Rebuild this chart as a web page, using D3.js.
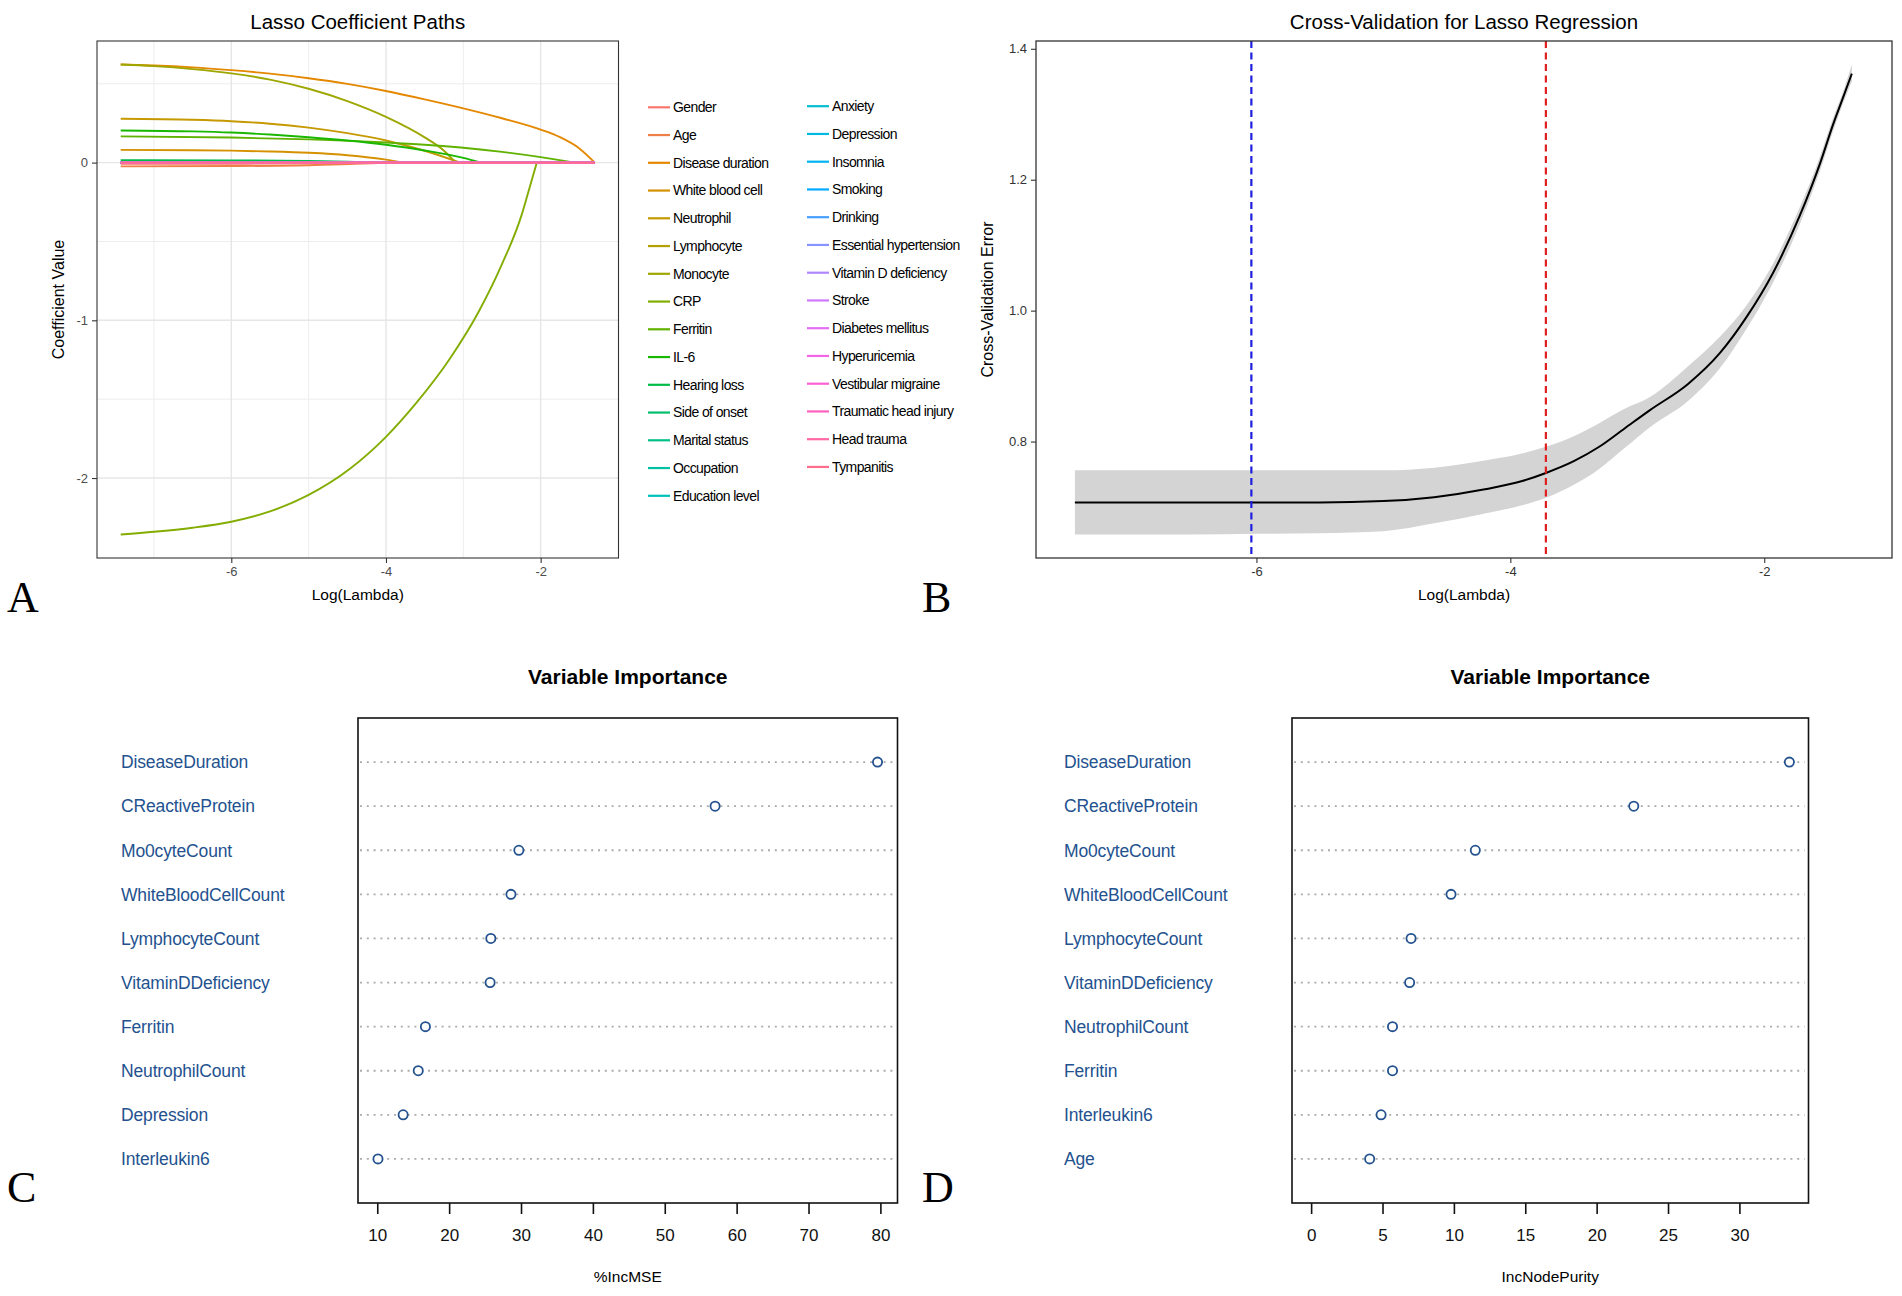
<!DOCTYPE html>
<html>
<head>
<meta charset="utf-8">
<title>Lasso paths, cross-validation and variable importance</title>
<script src="https://cdn.jsdelivr.net/npm/d3@7"></script>
<style>
  body { margin: 0; background: #fff; }
  svg { display: block; font-family: "Liberation Sans", Arial, sans-serif; }
</style>
</head>
<body>
<svg id="chart" width="1902" height="1296"></svg>
<script>
// ---- data ----

// variables in legend order (ggplot default hue palette)
const varNames = ["Gender", "Age", "Disease duration", "White blood cell", "Neutrophil",
  "Lymphocyte", "Monocyte", "CRP", "Ferritin", "IL-6", "Hearing loss", "Side of onset",
  "Marital status", "Occupation", "Education level", "Anxiety", "Depression", "Insomnia",
  "Smoking", "Drinking", "Essential hypertension", "Vitamin D deficiency", "Stroke",
  "Diabetes mellitus", "Hyperuricemia", "Vestibular migraine", "Traumatic head injury",
  "Head trauma", "Tympanitis"];

// range of log(lambda) on the path
const logLambdaRange = [-7.43, -1.30];

// non-zero coefficient paths: [log(lambda), coefficient], zero after the last point
const pathGender = [[-7.43, -0.007], [-6, -0.007], [-5, -0.005], [-4.4, -0.002], [-4.1, 0]];
const pathAge = [[-7.43, -0.024], [-6, -0.022], [-5, -0.017], [-4.4, -0.008], [-3.9, 0]];
const pathDiseaseDuration = [[-7.43, 0.622], [-7, 0.616], [-6.5, 0.604], [-6, 0.586], [-5.5, 0.564],
  [-5, 0.535], [-4.5, 0.499], [-4, 0.454], [-3.5, 0.401], [-3, 0.344], [-2.5, 0.281], [-2, 0.209],
  [-1.75, 0.161], [-1.5, 0.09], [-1.3, 0]];
const pathWhiteBloodCell = [[-7.43, 0.081], [-6.5, 0.0787], [-6, 0.0757], [-5.5, 0.0704], [-5, 0.062],
  [-4.5, 0.047], [-4, 0.019], [-3.78, 0]];
const pathNeutrophil = [[-7.43, 0.278], [-6.5, 0.2715], [-6, 0.2625], [-5.5, 0.2465], [-5, 0.2215],
  [-4.5, 0.1865], [-4, 0.140], [-3.5, 0.075], [-3.04, 0]];
const pathMonocyte = [[-7.43, 0.622], [-7, 0.612], [-6.5, 0.593], [-6, 0.566], [-5.5, 0.526],
  [-5, 0.468], [-4.5, 0.39], [-4, 0.29], [-3.5, 0.16], [-3.25, 0.075], [-3.1, 0]];
const pathCRP = [[-7.43, -2.358], [-7, -2.341], [-6.5, -2.315], [-6, -2.277], [-5.5, -2.212],
  [-5, -2.107], [-4.47, -1.943], [-4, -1.739], [-3.6, -1.519], [-3.17, -1.24], [-2.8, -0.944],
  [-2.5, -0.644], [-2.25, -0.338], [-2.15, -0.17], [-2.05, 0]];
const pathFerritin = [[-7.43, 0.166], [-6, 0.159], [-5, 0.147], [-4, 0.127], [-3.5, 0.113],
  [-3, 0.094], [-2.5, 0.068], [-2, 0.035], [-1.56, 0]];
const pathIL6 = [[-7.43, 0.204], [-6.5, 0.198], [-6, 0.1905], [-5.5, 0.178], [-5, 0.161],
  [-4.5, 0.140], [-4, 0.113], [-3.5, 0.077], [-3, 0.03], [-2.77, 0]];
const pathHearingLoss = [[-7.43, 0.015], [-6, 0.014], [-5, 0.011], [-4.5, 0.006], [-4.1, 0]];

// cross-validation curve
const cvLogLambda = [-7.43, -7.0, -6.5, -6.0, -5.5, -5.0, -4.6, -4.2, -3.9, -3.72, -3.5, -3.3,
  -3.1, -2.9, -2.6, -2.35, -2.14, -1.93, -1.72, -1.56, -1.46, -1.38, -1.31];
const cvMean = [0.707, 0.707, 0.707, 0.707, 0.707, 0.709, 0.715, 0.727, 0.740, 0.752, 0.770, 0.792,
  0.820, 0.848, 0.888, 0.935, 0.990, 1.058, 1.145, 1.225, 1.283, 1.325, 1.362];
const cvUpper = [0.756, 0.756, 0.756, 0.756, 0.756, 0.756, 0.760, 0.771, 0.782, 0.792, 0.808, 0.828,
  0.850, 0.868, 0.915, 0.960, 1.008, 1.072, 1.158, 1.236, 1.293, 1.334, 1.376];
const cvLower = [0.658, 0.658, 0.658, 0.659, 0.660, 0.663, 0.675, 0.690, 0.703, 0.714, 0.734, 0.758,
  0.790, 0.822, 0.862, 0.912, 0.972, 1.043, 1.132, 1.214, 1.273, 1.316, 1.350];
const logLambdaMin = -6.04;   // blue line
const logLambda1se = -3.72;   // red line

// random forest importance
const mseLabels = ["DiseaseDuration", "CReactiveProtein", "Mo0cyteCount", "WhiteBloodCellCount",
  "LymphocyteCount", "VitaminDDeficiency", "Ferritin", "NeutrophilCount", "Depression", "Interleukin6"];
const incMSE = [79.6, 57.0, 29.7, 28.6, 25.8, 25.7, 16.7, 15.7, 13.6, 10.1];
const purityLabels = ["DiseaseDuration", "CReactiveProtein", "Mo0cyteCount", "WhiteBloodCellCount",
  "LymphocyteCount", "VitaminDDeficiency", "NeutrophilCount", "Ferritin", "Interleukin6", "Age"];
const incNodePurity = [33.5, 22.6, 11.5, 9.8, 7.0, 6.9, 5.7, 5.7, 4.9, 4.1];

// ---- helpers ----

// R's hcl() (polar Luv) -> hex, as used by ggplot's hue palette
function rHcl(h, c, l) {
  const hr = h * Math.PI / 180;
  const U = c * Math.cos(hr), V = c * Math.sin(hr);
  const Xn = 95.047, Yn = 100, Zn = 108.883;
  const Y = Yn * (l > 8 ? Math.pow((l + 16) / 116, 3) : l / 903.3);
  const t = Xn + 15 * Yn + 3 * Zn;
  const up = U / (13 * l) + 4 * Xn / t;
  const vp = V / (13 * l) + 9 * Yn / t;
  const X = 9 * Y * up / (4 * vp);
  const Z = -X / 3 - 5 * Y + 3 * Y / vp;
  const x = X / 100, y = Y / 100, z = Z / 100;
  const lin = [3.240479 * x - 1.537150 * y - 0.498535 * z,
    -0.969256 * x + 1.875992 * y + 0.041556 * z,
    0.055648 * x - 0.204043 * y + 1.057311 * z];
  const gam = v => {
    v = v > 0.00304 ? 1.055 * Math.pow(v, 1 / 2.4) - 0.055 : 12.92 * v;
    return Math.round(255 * Math.max(0, Math.min(1, v)));
  };
  return d3.rgb(gam(lin[0]), gam(lin[1]), gam(lin[2])).formatHex();
}

function huePal(n) {
  const step = 360 / n;
  return d3.range(n).map(i => rHcl((15 + i * step) % 360, 100, 65));
}

function expand(ext, mult) {
  const pad = (ext[1] - ext[0]) * mult;
  return [ext[0] - pad, ext[1] + pad];
}

const svg = d3.select('#chart');
const fmt = d => String(d);

function styleAxis(g, color, size) {
  g.select('.domain').remove();
  g.selectAll('.tick line').attr('stroke', '#333').attr('stroke-width', 1.1);
  g.selectAll('.tick text').attr('fill', color).attr('font-size', size)
    .attr('font-family', '"Liberation Sans", Arial, sans-serif');
}

function panelLetter(txt, x, y) {
  svg.append('text').attr('x', x).attr('y', y).text(txt)
    .attr('font-family', '"Liberation Serif", "Times New Roman", serif')
    .attr('font-size', 44).attr('fill', '#000');
}

// ---- Panel A: lasso coefficient paths ----
function drawPaths() {
  const nonZero = {
    "Gender": pathGender, "Age": pathAge, "Disease duration": pathDiseaseDuration,
    "White blood cell": pathWhiteBloodCell, "Neutrophil": pathNeutrophil, "Monocyte": pathMonocyte,
    "CRP": pathCRP, "Ferritin": pathFerritin, "IL-6": pathIL6, "Hearing loss": pathHearingLoss
  };
  const colors = huePal(varNames.length);
  const series = varNames.map((name, i) => ({
    name, color: colors[i],
    points: nonZero[name] || [[logLambdaRange[0], 0], [logLambdaRange[1], 0]]
  }));

  const left = 97, right = 618.5, top = 41, bottom = 558;
  const allY = series.flatMap(s => s.points.map(p => p[1]));
  const x = d3.scaleLinear().domain(expand(logLambdaRange, 0.05)).range([left, right]);
  const y = d3.scaleLinear().domain(expand(d3.extent(allY), 0.05)).range([bottom, top]);

  const g = svg.append('g');

  // grid
  const xMajor = [-6, -4, -2], xMinor = [-7, -5, -3];
  const yMajor = [0, -1, -2], yMinor = [0.5, -0.5, -1.5];
  g.selectAll('.vminor').data(xMinor).join('line')
    .attr('x1', d => x(d)).attr('x2', d => x(d)).attr('y1', top).attr('y2', bottom)
    .attr('stroke', '#EDEDED').attr('stroke-width', 1);
  g.selectAll('.hminor').data(yMinor).join('line')
    .attr('x1', left).attr('x2', right).attr('y1', d => y(d)).attr('y2', d => y(d))
    .attr('stroke', '#EDEDED').attr('stroke-width', 1);
  g.selectAll('.vmajor').data(xMajor).join('line')
    .attr('x1', d => x(d)).attr('x2', d => x(d)).attr('y1', top).attr('y2', bottom)
    .attr('stroke', '#E6E6E6').attr('stroke-width', 1.4);
  g.selectAll('.hmajor').data(yMajor).join('line')
    .attr('x1', left).attr('x2', right).attr('y1', d => y(d)).attr('y2', d => y(d))
    .attr('stroke', '#E6E6E6').attr('stroke-width', 1.4);

  // lines: curved part, then flat at zero up to the end of the path
  const line = d3.line().x(d => x(d[0])).y(d => y(d[1])).curve(d3.curveMonotoneX);
  series.forEach(s => {
    const last = s.points[s.points.length - 1];
    let d = line(s.points);
    if (last[0] < logLambdaRange[1]) d += `L${x(logLambdaRange[1])},${y(0)}`;
    g.append('path').attr('d', d).attr('fill', 'none')
      .attr('stroke', s.color).attr('stroke-width', 1.9);
  });

  g.append('rect').attr('x', left).attr('y', top).attr('width', right - left)
    .attr('height', bottom - top).attr('fill', 'none').attr('stroke', '#333').attr('stroke-width', 1.1);

  const ax = g.append('g').attr('transform', `translate(0,${bottom})`)
    .call(d3.axisBottom(x).tickValues(xMajor).tickFormat(fmt).tickSize(5).tickPadding(4));
  styleAxis(ax, '#4D4D4D', 13);
  const ay = g.append('g').attr('transform', `translate(${left},0)`)
    .call(d3.axisLeft(y).tickValues(yMajor).tickFormat(fmt).tickSize(5).tickPadding(4));
  styleAxis(ay, '#4D4D4D', 13);

  g.append('text').attr('x', (left + right) / 2).attr('y', 28.5).attr('text-anchor', 'middle')
    .attr('font-size', 20.5).text('Lasso Coefficient Paths');
  g.append('text').attr('x', (left + right) / 2).attr('y', 600).attr('text-anchor', 'middle')
    .attr('font-size', 15.5).text('Log(Lambda)');
  g.append('text').attr('transform', `translate(64,${(top + bottom) / 2}) rotate(-90)`)
    .attr('text-anchor', 'middle').attr('font-size', 16).text('Coefficient Value');

  // legend in two columns
  const perCol = 15, rowH = 27.75;
  const cols = [{ kx: 648, ty: 107.3 }, { kx: 807, ty: 106.2 }];
  const leg = g.append('g').selectAll('g').data(series).join('g')
    .attr('transform', (d, i) => {
      const c = cols[Math.floor(i / perCol)];
      return `translate(${c.kx},${c.ty + (i % perCol) * rowH})`;
    });
  leg.append('line').attr('x1', 0).attr('x2', 22).attr('y1', 0).attr('y2', 0)
    .attr('stroke', d => d.color).attr('stroke-width', 2.2);
  leg.append('text').attr('x', 25).attr('dy', '0.35em').attr('font-size', 14)
    .attr('letter-spacing', -0.6).text(d => d.name);
}

// ---- Panel B: cross-validation curve ----
function drawCV() {
  const left = 1036, right = 1892, top = 41, bottom = 558;
  const rows = cvLogLambda.map((v, i) => ({ x: v, m: cvMean[i], lo: cvLower[i], hi: cvUpper[i] }));
  const x = d3.scaleLinear().domain(expand(logLambdaRange, 0.05)).range([left, right]);
  const y = d3.scaleLinear().domain(expand([d3.min(cvLower), d3.max(cvUpper)], 0.05)).range([bottom, top]);

  const g = svg.append('g');
  const area = d3.area().x(d => x(d.x)).y0(d => y(d.lo)).y1(d => y(d.hi)).curve(d3.curveMonotoneX);
  g.append('path').datum(rows).attr('d', area).attr('fill', '#D4D4D4');
  const line = d3.line().x(d => x(d.x)).y(d => y(d.m)).curve(d3.curveMonotoneX);
  g.append('path').datum(rows).attr('d', line).attr('fill', 'none')
    .attr('stroke', '#000').attr('stroke-width', 2);

  g.append('line').attr('x1', x(logLambdaMin)).attr('x2', x(logLambdaMin)).attr('y1', top).attr('y2', bottom)
    .attr('stroke', '#1F1FE0').attr('stroke-width', 2.2).attr('stroke-dasharray', '7,4.5');
  g.append('line').attr('x1', x(logLambda1se)).attr('x2', x(logLambda1se)).attr('y1', top).attr('y2', bottom)
    .attr('stroke', '#E0201F').attr('stroke-width', 2.2).attr('stroke-dasharray', '7,4.5');

  g.append('rect').attr('x', left).attr('y', top).attr('width', right - left)
    .attr('height', bottom - top).attr('fill', 'none').attr('stroke', '#333').attr('stroke-width', 1.3);

  const ax = g.append('g').attr('transform', `translate(0,${bottom})`)
    .call(d3.axisBottom(x).tickValues([-6, -4, -2]).tickFormat(fmt).tickSize(5).tickPadding(4));
  styleAxis(ax, '#333', 13);
  const ay = g.append('g').attr('transform', `translate(${left},0)`)
    .call(d3.axisLeft(y).tickValues([0.8, 1.0, 1.2, 1.4]).tickFormat(d3.format('.1f')).tickSize(5).tickPadding(4));
  styleAxis(ay, '#333', 13);

  g.append('text').attr('x', (left + right) / 2).attr('y', 28.5).attr('text-anchor', 'middle')
    .attr('font-size', 20.5).text('Cross-Validation for Lasso Regression');
  g.append('text').attr('x', (left + right) / 2).attr('y', 600).attr('text-anchor', 'middle')
    .attr('font-size', 15.5).text('Log(Lambda)');
  g.append('text').attr('transform', `translate(993,${(top + bottom) / 2}) rotate(-90)`)
    .attr('text-anchor', 'middle').attr('font-size', 16).text('Cross-Validation Error');
}

// ---- Panels C and D: dot charts of variable importance ----
function drawDots(labels, values, opts) {
  const top = 718, bottom = 1203;
  const n = values.length;
  const ext = opts.fromZero ? [0, d3.max(values)] : d3.extent(values);
  const x = d3.scaleLinear().domain(expand(ext, 0.04)).range([opts.left, opts.right]);
  const y = d3.scaleLinear().domain([0, n + 1]).range([bottom, top]);
  const rows = labels.map((lab, i) => ({ lab, v: values[i], pos: n - i }));
  const blue = '#23528F';

  const g = svg.append('g');
  g.selectAll('.dots').data(rows).join('line')
    .attr('x1', opts.left + 2).attr('x2', opts.right - 4)
    .attr('y1', d => y(d.pos)).attr('y2', d => y(d.pos))
    .attr('stroke', '#ABABAB').attr('stroke-width', 1.8).attr('stroke-dasharray', '2,4.8');
  g.selectAll('circle').data(rows).join('circle')
    .attr('cx', d => x(d.v)).attr('cy', d => y(d.pos)).attr('r', 4.6)
    .attr('fill', '#fff').attr('stroke', blue).attr('stroke-width', 1.8);
  g.selectAll('.lab').data(rows).join('text')
    .attr('x', opts.labelX).attr('y', d => y(d.pos)).attr('dy', '0.36em')
    .attr('font-size', 17.5).attr('fill', blue).attr('letter-spacing', -0.15).text(d => d.lab);

  g.append('rect').attr('x', opts.left).attr('y', top).attr('width', opts.right - opts.left)
    .attr('height', bottom - top).attr('fill', 'none').attr('stroke', '#111').attr('stroke-width', 1.6);

  const ax = g.append('g').attr('transform', `translate(0,${bottom})`)
    .call(d3.axisBottom(x).ticks(8).tickFormat(fmt).tickSize(11).tickPadding(15));
  ax.select('.domain').remove();
  ax.selectAll('.tick line').attr('stroke', '#111').attr('stroke-width', 1.6);
  ax.selectAll('.tick text').attr('fill', '#111').attr('font-size', 17);

  const cx = (opts.left + opts.right) / 2;
  g.append('text').attr('x', cx).attr('y', 683.5).attr('text-anchor', 'middle')
    .attr('font-size', 21).attr('font-weight', 'bold').text('Variable Importance');
  g.append('text').attr('x', cx).attr('y', 1282).attr('text-anchor', 'middle')
    .attr('font-size', 15.5).text(opts.xLabel);
}

drawPaths();
drawCV();
drawDots(mseLabels, incMSE, { left: 358, right: 897.5, labelX: 121, fromZero: false, xLabel: '%IncMSE' });
drawDots(purityLabels, incNodePurity, { left: 1292, right: 1808.5, labelX: 1064, fromZero: true, xLabel: 'IncNodePurity' });

panelLetter('A', 7, 612);
panelLetter('B', 922, 612);
panelLetter('C', 7, 1202);
panelLetter('D', 922, 1202);
</script>
</body>
</html>
